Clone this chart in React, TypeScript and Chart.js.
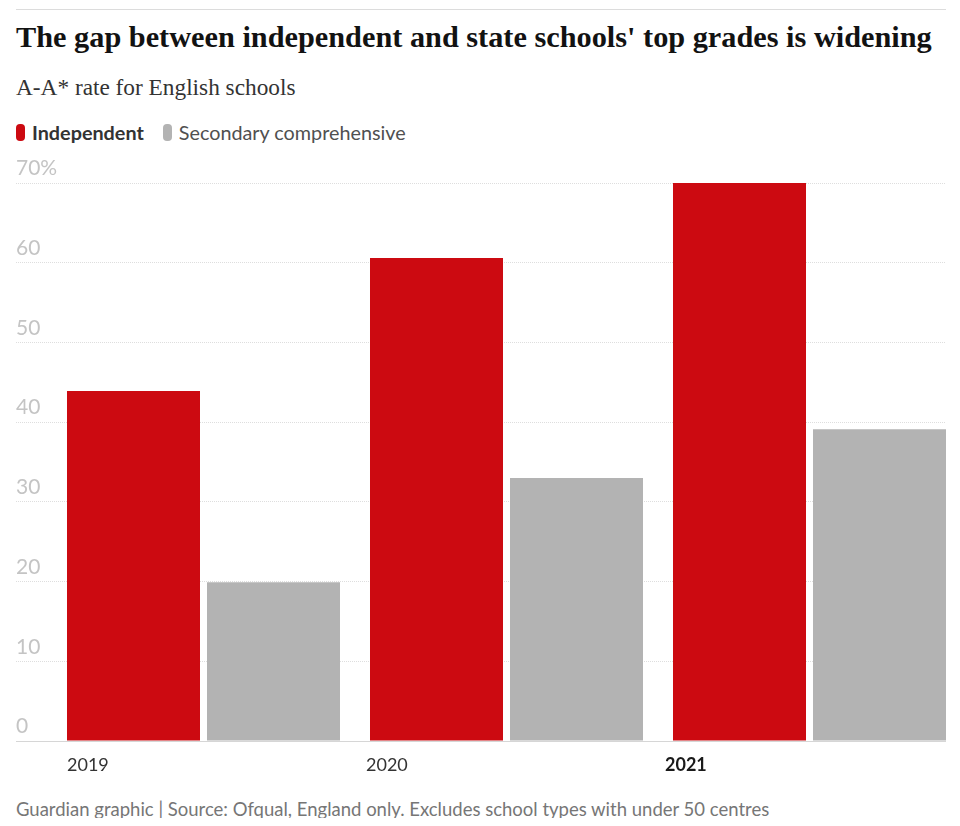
import React, { useEffect, useRef } from "react";
import { Chart, registerables } from "chart.js";

Chart.register(...registerables);

const years = ["2019", "2020", "2021"];
const independent = [43.9, 60.6, 70.0];
const comprehensive = [19.9, 33.0, 39.1];
const yTickValues = [0, 10, 20, 30, 40, 50, 60, 70];
const seriesNames = ["Independent", "Secondary comprehensive"];
const seriesColors = ["#cc0a11", "#b3b3b3"];

const titleText = "The gap between independent and state schools' top grades is widening";
const subtitleText = "A-A* rate for English schools";
const footerText =
  "Guardian graphic | Source: Ofqual, England only. Excludes school types with under 50 centres";

const SANS = "Lato, 'Open Sans', sans-serif";
const SERIF = "'Liberation Serif', 'DejaVu Serif', serif";

function BarChart() {
  const ref = useRef<HTMLCanvasElement | null>(null);

  useEffect(() => {
    if (!ref.current) return;
    const chart = new Chart(ref.current, {
      type: "bar",
      data: {
        datasets: [
          {
            label: seriesNames[0],
            data: years.map((_, i) => ({ x: i, y: independent[i] })),
            backgroundColor: seriesColors[0],
            borderWidth: 0,
            xAxisID: "x",
            yAxisID: "y",
            categoryPercentage: 280 / 303,
            barPercentage: 133 / 140,
          },
          {
            label: seriesNames[1],
            data: years.map((_, i) => ({ x: i, y: comprehensive[i] })),
            backgroundColor: seriesColors[1],
            borderWidth: 0,
            xAxisID: "x",
            yAxisID: "y",
            categoryPercentage: 280 / 303,
            barPercentage: 133 / 140,
          },
        ],
      },
      options: {
        animation: false,
        responsive: true,
        maintainAspectRatio: false,
        layout: { padding: { top: 33, left: 0, right: 0, bottom: 0 } },
        plugins: {
          legend: { display: false },
          tooltip: { enabled: false },
          title: { display: false },
        },
        scales: {
          x: {
            type: "linear",
            display: false,
            offset: false,
            min: -0.6188,
            max: 2.4505,
            afterBuildTicks: (s: any) => {
              s.ticks = years.map((_, i) => ({ value: i }));
            },
          },
          x2: {
            type: "linear",
            position: "bottom",
            offset: false,
            min: -0.17057,
            max: 2.93975,
            afterBuildTicks: (s: any) => {
              s.ticks = years.map((_, i) => ({ value: i }));
            },
            afterFit: (s: any) => {
              s.height = 49;
            },
            grid: { display: false, drawTicks: false },
            border: { display: false },
            ticks: {
              align: "start",
              padding: 13,
              autoSkip: false,
              maxRotation: 0,
              color: (ctx: any) => (ctx.index === 2 ? "#1a1a1a" : "#333333"),
              font: (ctx: any) => ({
                family: SANS,
                size: 18,
                weight: ctx.index === 2 ? "bold" : "normal",
              }),
              callback: (_v: any, i: number) => years[i] ?? "",
            },
          },
          y: {
            type: "linear",
            position: "left",
            min: 0,
            max: 70,
            afterBuildTicks: (s: any) => {
              s.ticks = yTickValues.map((v) => ({ value: v }));
            },
            afterFit: (s: any) => {
              s.width = 0;
            },
            grid: {
              drawTicks: false,
              lineWidth: 1,
              color: (ctx: any) =>
                ctx.tick && ctx.tick.value === 0 ? "#d6d6d6" : "#dedede",
            },
            border: {
              display: false,
              dash: (ctx: any) =>
                ctx.tick && ctx.tick.value === 0 ? [] : [1, 1],
            },
            ticks: {
              mirror: true,
              padding: 0,
              labelOffset: -14.5,
              color: "#c4c4c4",
              font: { family: SANS, size: 21 },
              callback: (v: any) => (v === 70 ? "70%" : String(v)),
            },
          },
        },
      },
    } as any);
    return () => chart.destroy();
  }, []);

  return <canvas ref={ref} />;
}

export default function App() {
  return (
    <div
      style={{
        position: "relative",
        width: 930,
        height: 810,
        marginLeft: 8,
        background: "#ffffff",
      }}
    >
      <div
        style={{
          position: "absolute",
          left: 0,
          top: 1,
          width: 930,
          height: 1,
          background: "#dcdcdc",
        }}
      />
      <div
        style={{
          position: "absolute",
          left: 0,
          top: 13.6,
          fontFamily: SERIF,
          fontWeight: 700,
          fontSize: 30.3,
          lineHeight: "30.3px",
          color: "#121212",
          whiteSpace: "nowrap",
        }}
      >
        {titleText}
      </div>
      <div
        style={{
          position: "absolute",
          left: 0,
          top: 67.5,
          fontFamily: SERIF,
          fontSize: 23.3,
          lineHeight: "23.3px",
          color: "#333333",
          whiteSpace: "nowrap",
        }}
      >
        {subtitleText}
      </div>
      <div
        style={{
          position: "absolute",
          left: 0,
          top: 111,
          display: "flex",
          alignItems: "center",
          fontFamily: SANS,
          fontSize: 19.8,
          lineHeight: "26px",
          whiteSpace: "nowrap",
        }}
      >
        {seriesNames.map((name, i) => (
          <div
            key={name}
            style={{ display: "flex", alignItems: "center", marginRight: 19 }}
          >
            <span
              style={{
                display: "inline-block",
                width: 9,
                height: 17,
                borderRadius: 4,
                background: seriesColors[i],
                marginRight: 7,
              }}
            />
            <span
              style={{
                fontWeight: i === 0 ? 700 : 400,
                color: i === 0 ? "#333333" : "#505050",
              }}
            >
              {name}
            </span>
          </div>
        ))}
      </div>
      <div
        style={{
          position: "absolute",
          left: 0,
          top: 142,
          width: 930,
          height: 640,
        }}
      >
        <BarChart />
      </div>
      <div
        style={{
          position: "absolute",
          left: 0,
          top: 792.3,
          fontFamily: SANS,
          fontSize: 18.5,
          lineHeight: "18.5px",
          color: "#767676",
          whiteSpace: "nowrap",
        }}
      >
        {footerText}
      </div>
    </div>
  );
}
